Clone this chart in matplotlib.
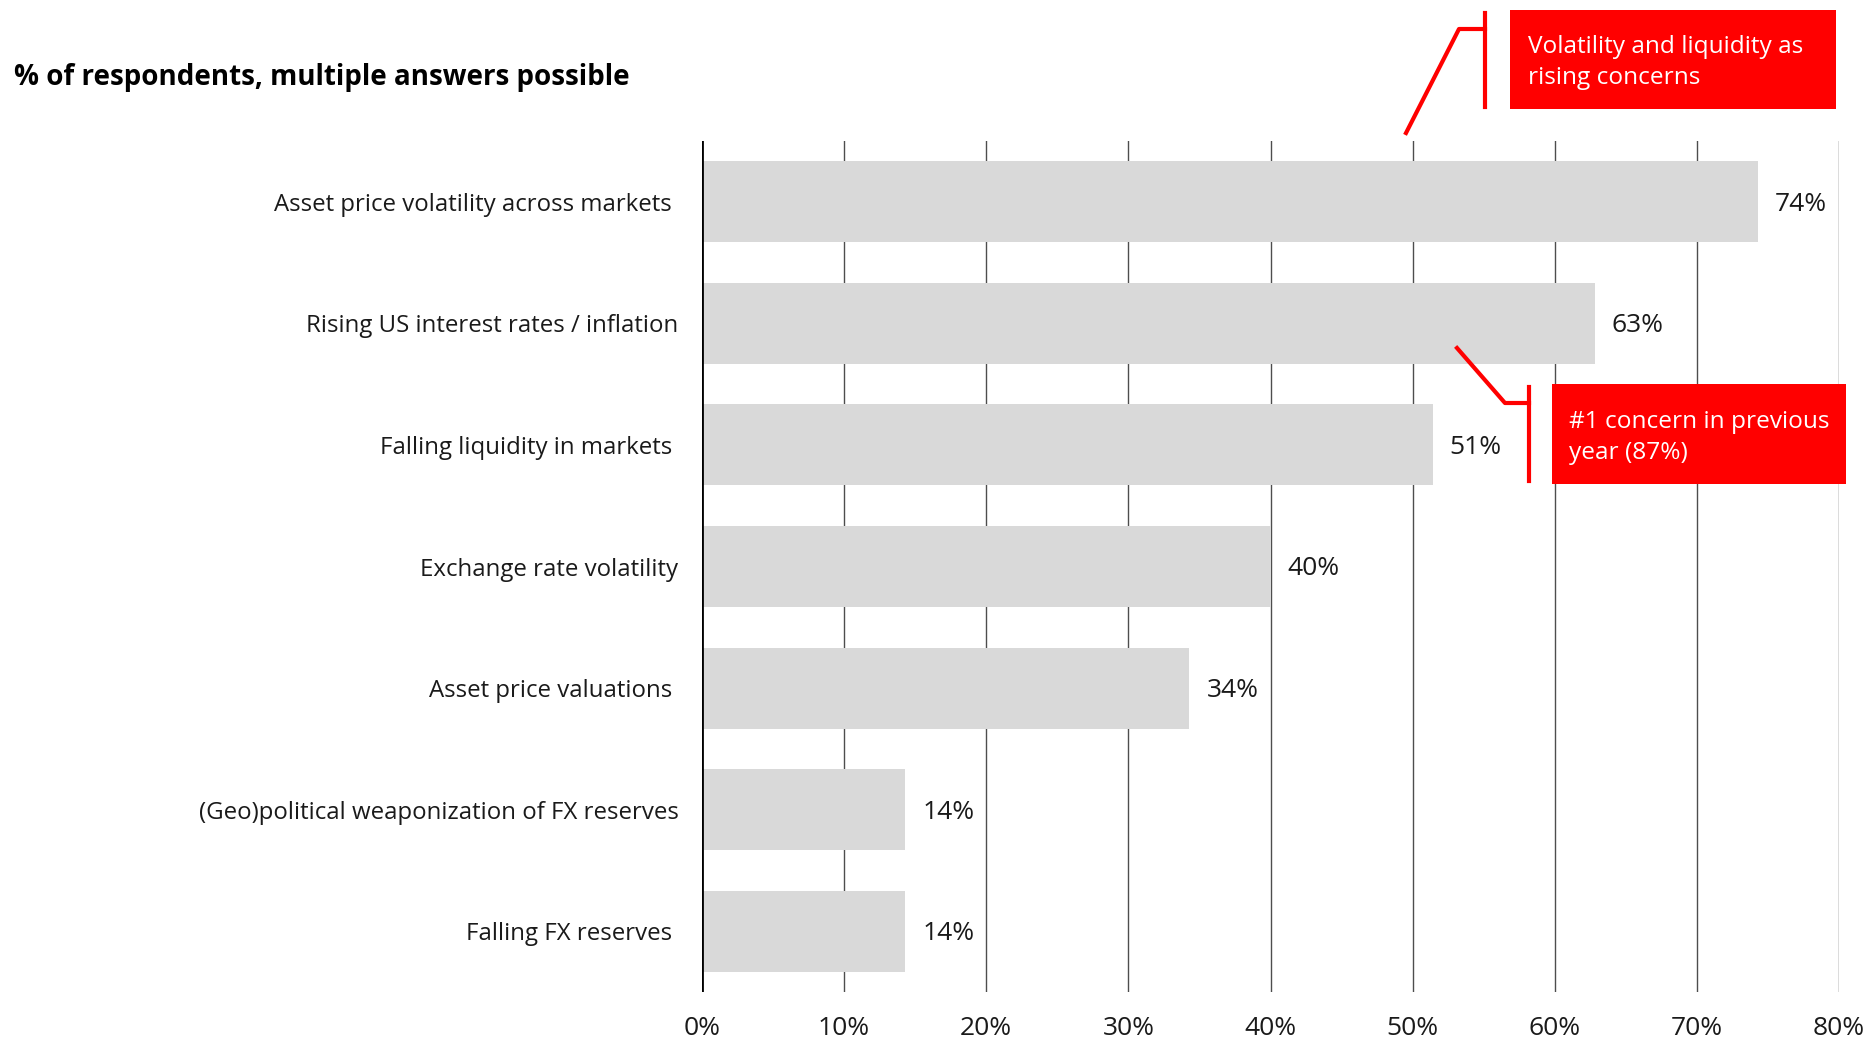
import matplotlib
matplotlib.use("Agg")
import matplotlib.pyplot as plt
from matplotlib.lines import Line2D
from matplotlib.patches import Rectangle

# survey data (% of respondents)
categories = ['Asset price volatility across markets ',
              'Rising US interest rates / inflation',
              'Falling liquidity in markets ',
              'Exchange rate volatility',
              'Asset price valuations ',
              '(Geo)political weaponization of FX reserves',
              'Falling FX reserves ']
values = [74.3, 62.8, 51.4, 40.0, 34.3, 14.3, 14.3]
value_labels = ['74%', '63%', '51%', '40%', '34%', '14%', '14%']
xticks = [0, 10, 20, 30, 40, 50, 60, 70, 80]
xtick_labels = [str(t) + '%' for t in xticks]

plt.rcParams['font.family'] = ['Open Sans', 'DejaVu Sans']

W, H = 1869, 1037
fig = plt.figure(figsize=(W / 100, H / 100), dpi=100)

def fx(px):
    return px / W

def fy(py):
    return 1 - py / H

ax = fig.add_axes([fx(702), fy(992), fx(1839) - fx(702), fy(141) - fy(992)])

ypos = list(range(len(categories)))
ax.barh(ypos, values, height=0.667, color='#d9d9d9', zorder=2)

ax.set_xlim(0, 80)
ax.set_ylim(6.5, -0.5)

for x in xticks[1:]:
    ax.axvline(x, color='#4d4d4d', lw=1.0, zorder=1)
ax.axvline(0, color='black', lw=2, zorder=3)

for y, v, lab in zip(ypos, values, value_labels):
    ax.text(v + 1.2, y + 0.02, lab, va='center', ha='left', fontsize=19, color='#1a1a1a')

ax.set_yticks(ypos)
ax.set_yticklabels(categories, fontsize=17.3, color='#1a1a1a')
ax.set_xticks(xticks)
ax.set_xticklabels(xtick_labels, fontsize=19, color='#1a1a1a')
ax.tick_params(axis='y', length=0, pad=17)
ax.tick_params(axis='x', length=0, pad=17)
for s in ax.spines.values():
    s.set_visible(False)

fig.text(fx(14), fy(78), '% of respondents, multiple answers possible',
         fontsize=20, fontweight='bold', va='center', ha='left')

red = '#ff0000'

# callout 1
fig.add_artist(Rectangle((fx(1510), fy(109)), fx(1836) - fx(1510), fy(10) - fy(109),
                         transform=fig.transFigure, color=red, lw=0))
fig.text(fx(1528), fy(62.5), 'Volatility and liquidity as\nrising concerns',
         color='white', fontsize=17.6, va='center', ha='left', linespacing=1.4)
fig.add_artist(Line2D([fx(1485), fx(1485)], [fy(13), fy(107)], color=red, lw=3,
                      transform=fig.transFigure))
fig.add_artist(Line2D([fx(1406), fx(1459), fx(1485)], [fy(133), fy(29), fy(29)],
                      color=red, lw=3, transform=fig.transFigure))

# callout 2
fig.add_artist(Rectangle((fx(1552), fy(484)), fx(1846) - fx(1552), fy(384) - fy(484),
                         transform=fig.transFigure, color=red, lw=0, zorder=5))
fig.text(fx(1569), fy(437.5), '#1 concern in previous\nyear (87%)',
         color='white', fontsize=17.6, va='center', ha='left', linespacing=1.4, zorder=6)
fig.add_artist(Line2D([fx(1529), fx(1529)], [fy(387), fy(481)], color=red, lw=3,
                      transform=fig.transFigure, zorder=5))
fig.add_artist(Line2D([fx(1457), fx(1505), fx(1529)], [fy(348), fy(403), fy(403)],
                      color=red, lw=3, transform=fig.transFigure, zorder=5))

fig.savefig('out.png', dpi=100)
